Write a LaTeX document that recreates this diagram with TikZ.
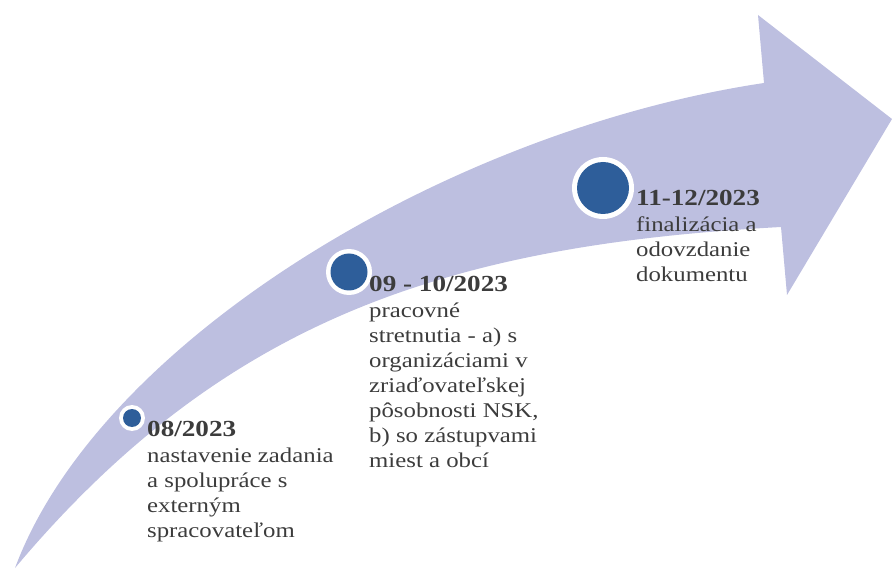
\documentclass[tikz,border=0pt]{standalone}
\usepackage{fontspec}
\setmainfont{Liberation Serif}[FakeStretch=1.18]
\definecolor{arrowfill}{RGB}{189,191,224}
\definecolor{dotblue}{RGB}{46,94,154}
\definecolor{txtgray}{RGB}{60,60,60}
\tikzset{
  ring/.style={circle, fill=white, inner sep=0pt},
  dot/.style={circle, fill=dotblue, inner sep=0pt},
  label/.style={anchor=base west, align=left, inner sep=0pt, text=txtgray,
    font=\fontsize{21}{25}\selectfont},
}
\newcommand{\hd}[1]{{\fontsize{23}{25}\selectfont\bfseries #1}}
\begin{document}
\begin{tikzpicture}[x=1pt,y=-1pt]
\useasboundingbox (0,0) rectangle (892,569);
\coordinate (tail) at (15,568);
\coordinate (ujoint) at (764,83);
\coordinate (ubarb) at (758,15);
\coordinate (tip) at (892,119);
\coordinate (lbarb) at (787,295);
\coordinate (ljoint) at (781,227);
\fill[arrowfill] (tail) .. controls (100,340) and (450,130) .. (ujoint)
  -- (ubarb) -- (tip) -- (lbarb) -- (ljoint)
  .. controls (450,245) and (225,318) .. (tail) -- cycle;
\node[ring, minimum size=26pt] (r1) at (132,418) {};
\node[dot, minimum size=18pt] (d1) at (r1.center) {};
\node[ring, minimum size=46pt] (r2) at (349,272) {};
\node[dot, minimum size=37pt] (d2) at (r2.center) {};
\node[ring, minimum size=62pt] (r3) at (603,188) {};
\node[dot, minimum size=52pt] (d3) at (r3.center) {};
\node[label] (t1) at (147,537) {\hd{08/2023}\\[1pt]nastavenie zadania\\a spolupráce s\\externým\\spracovateľom};
\node[label] (t2) at (369,467) {\hd{09 - 10/2023}\\[1pt]pracovné\\stretnutia - a) s\\organizáciami v\\zriaďovateľskej\\pôsobnosti NSK,\\b) so zástupvami\\miest a obcí};
\node[label] (t3) at (636,282) {\hd{11-12/2023}\\[1pt]finalizácia a\\odovzdanie\\dokumentu};
\end{tikzpicture}
\end{document}
